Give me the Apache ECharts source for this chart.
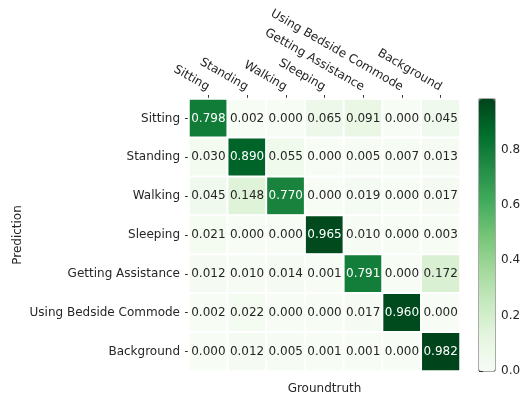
<!DOCTYPE html>
<html>
<head>
<meta charset="utf-8">
<script src="https://cdn.jsdelivr.net/npm/echarts@6/dist/echarts.min.js"></script>
<style>
  html, body { margin: 0; padding: 0; background: #fff; }
  #chart { width: 522px; height: 398px; }
</style>
</head>
<body>
<div id="chart"></div>
<script>
// classes (groundtruth across, prediction down)
var classes = ["Sitting", "Standing", "Walking", "Sleeping", "Getting Assistance", "Using Bedside Commode", "Background"];

// one row per predicted class
var rowSitting    = [0.798, 0.002, 0.000, 0.065, 0.091, 0.000, 0.045];
var rowStanding   = [0.030, 0.890, 0.055, 0.000, 0.005, 0.007, 0.013];
var rowWalking    = [0.045, 0.148, 0.770, 0.000, 0.019, 0.000, 0.017];
var rowSleeping   = [0.021, 0.000, 0.000, 0.965, 0.010, 0.000, 0.003];
var rowAssistance = [0.012, 0.010, 0.014, 0.001, 0.791, 0.000, 0.172];
var rowCommode    = [0.002, 0.022, 0.000, 0.000, 0.017, 0.960, 0.000];
var rowBackground = [0.000, 0.012, 0.005, 0.001, 0.001, 0.000, 0.982];

var colorbarTicks = [0.0, 0.2, 0.4, 0.6, 0.8];

var rows = [rowSitting, rowStanding, rowWalking, rowSleeping, rowAssistance, rowCommode, rowBackground];

var vmax = 0;
rows.forEach(function (r) { r.forEach(function (v) { if (v > vmax) vmax = v; }); });

// matplotlib "Greens"
var greens = ["#f7fcf5", "#e5f5e0", "#c7e9c0", "#a1d99b", "#74c476", "#41ab5d", "#238b45", "#006d2c", "#00441b"];

var cells = [];
for (var i = 0; i < rows.length; i++) {
    for (var j = 0; j < rows[i].length; j++) {
        var v = rows[i][j];
        cells.push({
            value: [j, i, v],
            label: { color: v > vmax / 2 ? "#ffffff" : "#262626" }
        });
    }
}

var font = "DejaVu Sans";
var chart = echarts.init(document.getElementById("chart"));

var option = {
    animation: false,
    textStyle: { fontFamily: font },
    grid: [
        { left: 189, top: 99, width: 271, height: 272, outerBoundsMode: "none", containLabel: false },
        { left: 479, top: 99, width: 16, height: 272, outerBoundsMode: "none", containLabel: false,
          show: true, borderColor: "#555", borderWidth: 1, backgroundColor: "transparent" }
    ],
    xAxis: [
        {
            type: "category",
            data: classes,
            position: "top",
            gridIndex: 0,
            axisLine: { show: false },
            axisTick: { show: true, alignWithLabel: true, length: 4, lineStyle: { color: "#333" } },
            axisLabel: { rotate: 30, fontSize: 12, color: "#262626", fontFamily: font, margin: 11, interval: 0 },
            splitLine: { show: false }
        },
        {
            type: "category",
            data: classes,
            position: "bottom",
            gridIndex: 0,
            name: "Groundtruth",
            nameLocation: "middle",
            nameGap: 12,
            nameTextStyle: { fontSize: 12, color: "#262626", fontFamily: font },
            axisLine: { show: false },
            axisTick: { show: false },
            axisLabel: { show: false }
        },
        {
            type: "value",
            gridIndex: 1,
            show: false,
            min: 0,
            max: 1
        }
    ],
    yAxis: [
        {
            type: "category",
            data: classes,
            inverse: true,
            gridIndex: 0,
            name: "Prediction",
            nameLocation: "middle",
            nameGap: 165,
            nameMoveOverlap: false,
            nameRotate: 90,
            nameTextStyle: { fontSize: 12, color: "#262626", fontFamily: font },
            axisLine: { show: false },
            axisTick: { show: true, alignWithLabel: true, length: 4, lineStyle: { color: "#333" } },
            axisLabel: { fontSize: 12, color: "#262626", fontFamily: font, margin: 9, interval: 0 },
            splitLine: { show: false }
        },
        {
            type: "value",
            gridIndex: 1,
            position: "right",
            min: 0,
            max: vmax,
            interval: 0.2,
            axisLine: { show: false },
            axisTick: { show: true, length: 4, lineStyle: { color: "#333" } },
            axisLabel: {
                fontSize: 12, color: "#262626", fontFamily: font, margin: 6,
                showMaxLabel: false,
                formatter: function (v) {
                    return colorbarTicks.indexOf(Math.round(v * 10) / 10) >= 0 ? v.toFixed(1) : "";
                }
            },
            splitLine: { show: false }
        }
    ],
    visualMap: {
        type: "continuous",
        min: 0,
        max: vmax,
        seriesIndex: 0,
        dimension: 2,
        calculable: false,
        orient: "vertical",
        left: 479,
        top: 99,
        itemWidth: 16,
        itemHeight: 272,
        padding: 0,
        text: ["", ""],
        showLabel: false,
        inRange: { color: greens }
    },
    series: [
        {
            type: "heatmap",
            xAxisIndex: 0,
            yAxisIndex: 0,
            data: cells,
            itemStyle: { borderColor: "#ffffff", borderWidth: 2 },
            label: {
                show: true,
                fontSize: 12,
                fontFamily: font,
                formatter: function (p) { return p.value[2].toFixed(3); }
            },
            emphasis: { disabled: true }
        }
    ]
};

chart.setOption(option);
</script>
</body>
</html>
